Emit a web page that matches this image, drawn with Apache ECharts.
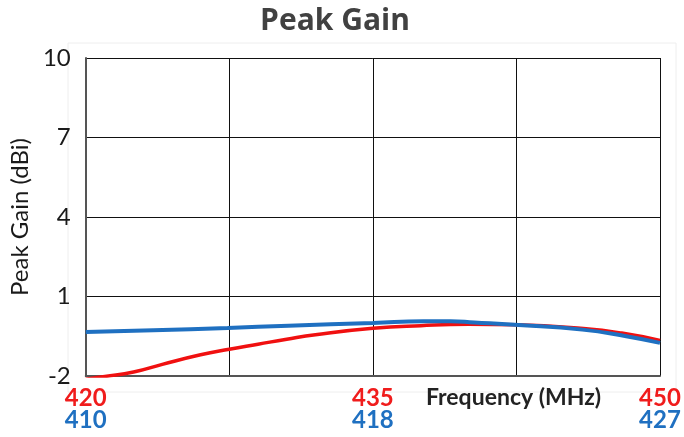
<!DOCTYPE html>
<html>
<head>
<meta charset="utf-8">
<script src="https://cdn.jsdelivr.net/npm/echarts@6/dist/echarts.min.js"></script>
<style>
html,body{margin:0;padding:0;background:#fff;}
#chart{width:684px;height:437px;}
</style>
</head>
<body>
<div id="chart"></div>
<script>
// Red curve: 420–450 MHz band
var redFreq = [420, 421, 422.5, 424, 426, 427.5, 429, 430.5, 432, 435, 437.5, 440, 442.5, 446, 448, 450];
var redGain = [-2.12, -2.02, -1.85, -1.56, -1.2, -0.99, -0.8, -0.61, -0.44, -0.2, -0.1, -0.05, -0.07, -0.21, -0.38, -0.66];
// Blue curve: 410–427 MHz band
var blueFreq = [410, 412, 414.2, 416, 418.5, 420, 420.8, 421.5, 422.7, 424.7, 426, 427];
var blueGain = [-0.34, -0.27, -0.19, -0.10, 0.0, 0.07, 0.07, 0.02, -0.07, -0.25, -0.5, -0.75];
// Tick labels
var redTicks = [420, 435, 450];
var blueTicks = ['410', '418', '427'];
var yTicks = [-2, 1, 4, 7, 10];

function pairs(xs, ys){ return xs.map(function(x,i){ return [x, ys[i]]; }); }

var chart = echarts.init(document.getElementById('chart'), null, {renderer:'canvas'});
chart.setOption({
  backgroundColor: '#ffffff',
  animation: false,
  title: {
    text: 'Peak Gain',
    left: 330, top: 1, textAlign: 'center',
    textStyle: {fontFamily: 'Open Sans', fontWeight: 700, fontSize: 30, color: '#414141'}
  },
  grid: {left: 84, right: 24, top: 58, bottom: 61},
  graphic: [
    {type:'rect', shape:{x:68, y:43, width:608, height:349}, style:{fill:'none', stroke:'#eeeeee', lineWidth:1}, z:-1},
    {type:'text', left: 426, top: 386, style:{text:'Frequency (MHz)', fontFamily:'Lato', fontWeight:700, fontSize:23, fill:'#222222'}}
  ],
  xAxis: [{
    type: 'value', min: 420, max: 450, interval: 7.5,
    axisLine: {show: true, onZero: false, lineStyle: {color: '#555555', width: 2}},
    axisTick: {show: false},
    splitLine: {show: true, lineStyle: {color: '#111111', width: 1}},
    axisLabel: {
      showMinLabel: true, showMaxLabel: true, margin: 11,
      formatter: function(v){
        var i = redTicks.indexOf(v);
        if (i < 0) return '';
        return '{r|' + v + '}\n{b|' + blueTicks[i] + '}';
      },
      rich: {
        r: {fontFamily:'Lato', fontWeight:700, fontSize:24, color:'#f01c1c', lineHeight:22},
        b: {fontFamily:'Lato', fontWeight:700, fontSize:24, color:'#1f70c1', lineHeight:22}
      }
    }
  }, {
    type: 'value', min: 410, max: 427, show: false, position: 'bottom',
    axisLine: {onZero: false}
  }],
  yAxis: {
    type: 'value', min: yTicks[0], max: yTicks[yTicks.length-1], interval: 3,
    name: 'Peak Gain (dBi)', nameLocation: 'middle', nameGap: 50,
    nameTextStyle: {fontFamily:'Lato', fontSize:24, color:'#1a1a1a'},
    axisLine: {show: true, lineStyle: {color: '#555555', width: 2}},
    axisTick: {show: false},
    splitLine: {show: true, lineStyle: {color: '#111111', width: 1}},
    axisLabel: {fontFamily:'Lato', fontSize:24, color:'#1a1a1a', margin: 15}
  },
  series: [{
    type: 'line', name: '420-450', xAxisIndex: 0,
    data: pairs(redFreq, redGain), smooth: 0.5, showSymbol: false, clip: true,
    lineStyle: {color: '#f01010', width: 3.5}, z: 3
  }, {
    type: 'line', name: '410-427', xAxisIndex: 1,
    data: pairs(blueFreq, blueGain), smooth: 0.5, showSymbol: false, clip: true,
    lineStyle: {color: '#1f70c1', width: 4}, z: 4
  }]
});
</script>
</body>
</html>
